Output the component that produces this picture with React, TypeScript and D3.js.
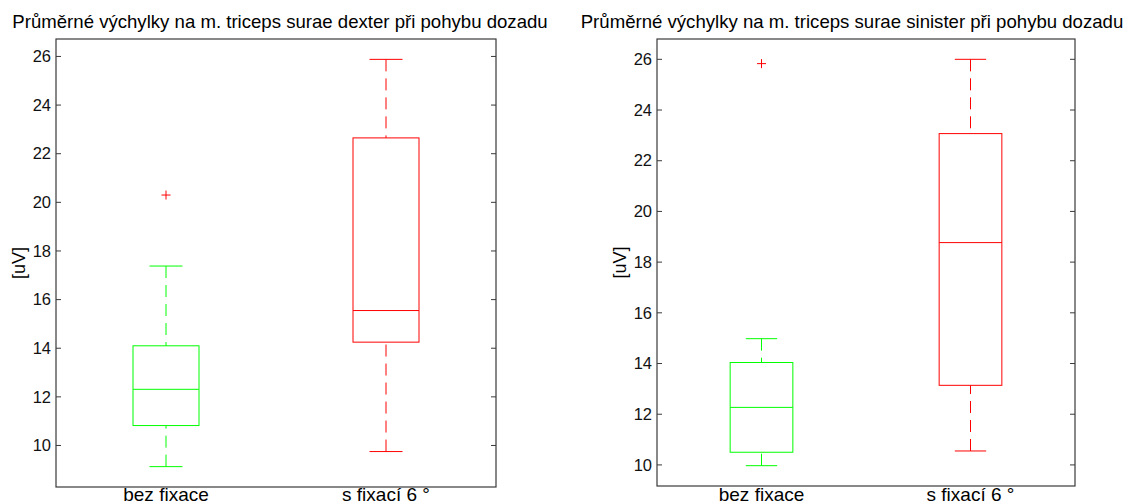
import React from "react";
import * as d3 from "d3";

// Group labels shared by both panels
const categories = ["bez fixace", "s fixací 6 °"];
const groupColors = ["#00ff00", "#ff0000"];

// m. triceps surae dexter – box statistics per group [uV]
const dexterWhiskerLow = [9.13, 9.75];
const dexterQ1 = [10.82, 14.25];
const dexterMedian = [12.31, 15.55];
const dexterQ3 = [14.1, 22.65];
const dexterWhiskerHigh = [17.38, 25.88];
const dexterOutliers = [[20.3], []];

// m. triceps surae sinister – box statistics per group [uV]
const sinisterWhiskerLow = [9.97, 10.55];
const sinisterQ1 = [10.5, 13.14];
const sinisterMedian = [12.27, 18.77];
const sinisterQ3 = [14.04, 23.07];
const sinisterWhiskerHigh = [14.98, 26.0];
const sinisterOutliers = [[25.83], []];

const yTicks = [10, 12, 14, 16, 18, 20, 22, 24, 26];

const titles = [
  "Průměrné výchylky na m. triceps surae dexter při pohybu dozadu",
  "Průměrné výchylky na m. triceps surae sinister při pohybu dozadu",
];
const yLabel = "[uV]";

type Stats = {
  lo: number[];
  q1: number[];
  med: number[];
  q3: number[];
  hi: number[];
  out: number[][];
};

const panels: {
  stats: Stats;
  title: string;
  left: number;
  right: number;
  top: number;
  bottom: number;
  titleX: number;
  yLabelX: number;
}[] = [
  {
    stats: {
      lo: dexterWhiskerLow,
      q1: dexterQ1,
      med: dexterMedian,
      q3: dexterQ3,
      hi: dexterWhiskerHigh,
      out: dexterOutliers,
    },
    title: titles[0],
    left: 56,
    right: 496,
    top: 39,
    bottom: 487,
    titleX: 280,
    yLabelX: 19,
  },
  {
    stats: {
      lo: sinisterWhiskerLow,
      q1: sinisterQ1,
      med: sinisterMedian,
      q3: sinisterQ3,
      hi: sinisterWhiskerHigh,
      out: sinisterOutliers,
    },
    title: titles[1],
    left: 657,
    right: 1075,
    top: 39,
    bottom: 486,
    titleX: 852,
    yLabelX: 620,
  },
];

const FONT = "Arial, 'Liberation Sans', Helvetica, sans-serif";
const FRAME = "#3a3a3a";

function BoxPanel({ p }: { p: (typeof panels)[number] }) {
  const s = p.stats;
  const all = [...s.lo, ...s.hi, ...s.out.flat()];
  const lo = d3.min(all)!;
  const hi = d3.max(all)!;
  const pad = (hi - lo) * 0.05;

  const x = d3.scaleLinear().domain([0.5, 2.5]).range([p.left, p.right]);
  const y = d3.scaleLinear().domain([lo - pad, hi + pad]).range([p.bottom, p.top]);

  const boxHalf = 0.15;
  const capHalf = 0.075;
  const cross = 4.5;

  return (
    <g>
      <text
        x={p.titleX}
        y={28}
        textAnchor="middle"
        fontFamily={FONT}
        fontSize={18.6}
        fill="#000"
      >
        {p.title}
      </text>

      <rect
        x={p.left}
        y={p.top}
        width={p.right - p.left}
        height={p.bottom - p.top}
        fill="#fff"
        stroke={FRAME}
        strokeWidth={1.2}
      />

      {yTicks.map((t) => (
        <g key={t}>
          <line x1={p.left} x2={p.left + 5} y1={y(t)} y2={y(t)} stroke={FRAME} />
          <line x1={p.right} x2={p.right - 5} y1={y(t)} y2={y(t)} stroke={FRAME} />
          <text
            x={p.left - 5}
            y={y(t)}
            dy="0.35em"
            textAnchor="end"
            fontFamily={FONT}
            fontSize={16.5}
            fill="#111"
          >
            {t}
          </text>
        </g>
      ))}

      <text
        transform={`translate(${p.yLabelX},${(p.top + p.bottom) / 2}) rotate(-90)`}
        textAnchor="middle"
        dy="0.35em"
        fontFamily={FONT}
        fontSize={18}
        fill="#000"
      >
        {yLabel}
      </text>

      {categories.map((c, i) => {
        const k = i + 1;
        const color = groupColors[i];
        return (
          <g key={c}>
            <text
              x={x(k)}
              y={501}
              textAnchor="middle"
              fontFamily={FONT}
              fontSize={19}
              fill="#000"
            >
              {c}
            </text>
            {/* whiskers */}
            <line
              x1={x(k)}
              x2={x(k)}
              y1={y(s.hi[i])}
              y2={y(s.q3[i])}
              stroke={color}
              strokeDasharray="12 7"
            />
            <line
              x1={x(k)}
              x2={x(k)}
              y1={y(s.lo[i])}
              y2={y(s.q1[i])}
              stroke={color}
              strokeDasharray="12 7"
            />
            <line
              x1={x(k - capHalf)}
              x2={x(k + capHalf)}
              y1={y(s.hi[i])}
              y2={y(s.hi[i])}
              stroke={color}
            />
            <line
              x1={x(k - capHalf)}
              x2={x(k + capHalf)}
              y1={y(s.lo[i])}
              y2={y(s.lo[i])}
              stroke={color}
            />
            {/* box and median */}
            <rect
              x={x(k - boxHalf)}
              y={y(s.q3[i])}
              width={x(k + boxHalf) - x(k - boxHalf)}
              height={y(s.q1[i]) - y(s.q3[i])}
              fill="none"
              stroke={color}
            />
            <line
              x1={x(k - boxHalf)}
              x2={x(k + boxHalf)}
              y1={y(s.med[i])}
              y2={y(s.med[i])}
              stroke={color}
            />
            {/* outliers */}
            {s.out[i].map((v, j) => (
              <g key={j} stroke="#ff0000">
                <line x1={x(k) - cross} x2={x(k) + cross} y1={y(v)} y2={y(v)} />
                <line x1={x(k)} x2={x(k)} y1={y(v) - cross} y2={y(v) + cross} />
              </g>
            ))}
          </g>
        );
      })}
    </g>
  );
}

export default function App() {
  return (
    <svg
      width={1136}
      height={504}
      style={{ position: "absolute", left: 0, top: 0, background: "#fff" }}
    >
      <rect width={1136} height={504} fill="#fff" />
      {panels.map((p, i) => (
        <BoxPanel key={i} p={p} />
      ))}
    </svg>
  );
}
